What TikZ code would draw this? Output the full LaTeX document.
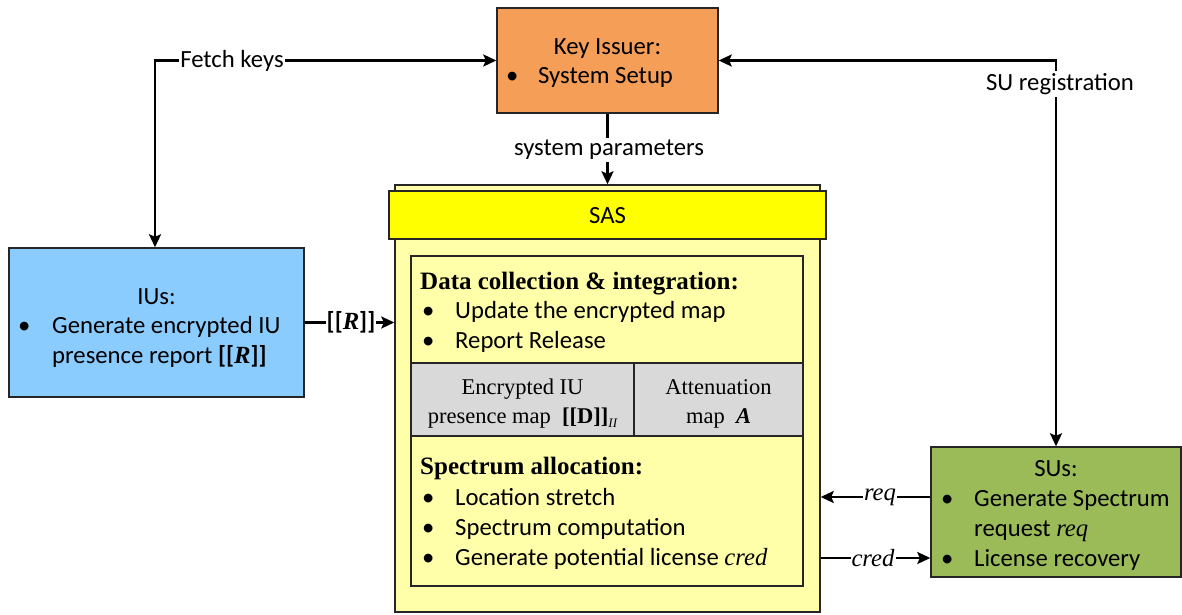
\documentclass[tikz,border=0pt]{standalone}
\usepackage{fontspec}
\setmainfont{Carlito}
\newfontfamily\tms{Liberation Serif}
\usetikzlibrary{arrows.meta}

\definecolor{keyorange}{RGB}{245,158,88}
\definecolor{iublue}{RGB}{139,204,255}
\definecolor{sugreen}{RGB}{155,187,89}
\definecolor{saspale}{RGB}{255,255,170}
\definecolor{sashead}{RGB}{255,255,0}
\definecolor{mapgray}{RGB}{217,217,217}

\newcommand{\encR}{\textbf{[[}{\tms\bfseries\itshape R}\textbf{]]}}

\begin{document}
\begin{tikzpicture}[x=1pt,y=-1pt,
  font=\fontsize{24.7}{29}\selectfont,
  box/.style={draw=black!85, line width=1.4pt, inner sep=0pt},
  txt/.style={anchor=base west, inner sep=0pt},
  ctxt/.style={anchor=base, inner sep=0pt},
  serif/.style={font=\fontsize{22.5}{27}\selectfont\tms},
  stitle/.style={font=\fontsize{25}{29}\selectfont\tms\bfseries},
  tip/.tip={Stealth[length=13pt,width=12pt,inset=2.5pt]},
  conn/.style={line width=2.3pt, -tip},
  biconn/.style={line width=2.3pt, tip-tip},
  lbl/.style={fill=white, inner sep=1pt}]
\useasboundingbox (0,0) rectangle (1182,615);

% ---- boxes ----
\node[box, fill=keyorange, minimum width=221pt, minimum height=105pt] (key) at (607.5,60.5) {};
\node[box, fill=saspale, minimum width=425pt, minimum height=427pt] (sas) at (607.5,398.5) {};
\node[box, fill=sashead, minimum width=437pt, minimum height=48pt] (head) at (607.5,215) {};
\node[box, fill=iublue, minimum width=295pt, minimum height=149pt] (iu) at (156.5,322.5) {};
\node[box, fill=sugreen, minimum width=250pt, minimum height=130pt] (su) at (1056,512) {};

% inner block of the SAS: collection / maps / allocation
\node[box, fill=saspale, minimum width=392pt, minimum height=330pt] (inner) at (607,421) {};
\node[box, fill=mapgray, minimum width=223pt, minimum height=73pt] (encmap) at (522.5,399.5) {};
\node[box, fill=mapgray, minimum width=169pt, minimum height=73pt] (attmap) at (718.5,399.5) {};

% ---- texts ----
\node[ctxt] (keyT) at (607.5,55) {Key Issuer:};
\node[txt] (keyB) at (506,84) {•};
\node[txt] (keyS) at (538,84) {System Setup};

\node[ctxt] (sasT) at (607.5,223) {SAS};

\node[ctxt] (iuT) at (156.5,304) {IUs:};
\node[txt] (iuB) at (18,333) {•};
\node[txt] (iu1) at (52,333) {Generate encrypted IU};
\node[txt] (iu2) at (52,363) {presence report \encR};

\node[txt, stitle] (dcT) at (420,289) {Data collection \& integration:};
\node[txt] (dcB1) at (422,318) {•};
\node[txt] (dc1) at (455,318) {Update the encrypted map};
\node[txt] (dcB2) at (422,348) {•};
\node[txt] (dc2) at (455,348) {Report Release};

\node[ctxt, serif] (em1) at (522.5,394) {Encrypted IU};
\node[ctxt, serif] (em2) at (522.5,423) {presence map\ \ \textbf{[[D]]}\raisebox{-4pt}{\fontsize{13}{13}\selectfont\itshape II}};
\node[ctxt, serif] (am1) at (718.5,394) {Attenuation};
\node[ctxt, serif] (am2) at (718.5,423) {map\ \ \textbf{\itshape A}};

\node[txt, stitle] (saT) at (420,474) {Spectrum allocation:};
\node[txt] (saB1) at (422,505) {•};
\node[txt] (sa1) at (455,505) {Location stretch};
\node[txt] (saB2) at (422,535) {•};
\node[txt] (sa2) at (455,535) {Spectrum computation};
\node[txt] (saB3) at (422,565) {•};
\node[txt] (sa3) at (455,565) {Generate potential license {\tms\itshape cred}};

\node[ctxt] (suT) at (1056,476) {SUs:};
\node[txt] (suB1) at (941,506) {•};
\node[txt] (su1) at (974,506) {Generate Spectrum};
\node[txt] (su2) at (974,536) {request {\tms\itshape req}};
\node[txt] (suB2) at (941,566) {•};
\node[txt] (su3) at (974,566) {License recovery};

% ---- connectors ----
\coordinate (fk) at (155,60.5);
\coordinate (sr) at (1056,60.5);
\coordinate (rq) at (0,497);
\coordinate (cr) at (0,558);

\draw[biconn] (iu.north -| fk) -- (fk) -- (key.west);
\node[lbl] (fkL) at (232,60.5) {Fetch keys};

\draw[biconn] (key.east) -- (sr) -- (su.north -| sr);
\node[lbl, inner sep=2pt] (srL) at (1060,84) {SU registration};

\draw[conn] (key.south) -- (sas.north);
\node[lbl, inner sep=2pt] (spL) at (609,150) {system parameters};

\draw[conn] (iu.east) -- (sas.west |- iu.east);
\node[lbl] (rL) at (351,322.5) {\encR};

\draw[conn] (su.west |- rq) -- (sas.east |- rq);
\node[lbl] (rqL) at (880,497) {\tms\itshape req};

\draw[conn] (sas.east |- cr) -- (su.west |- cr);
\node[lbl] (crL) at (873,558) {\tms\itshape cred};
\end{tikzpicture}
\end{document}
